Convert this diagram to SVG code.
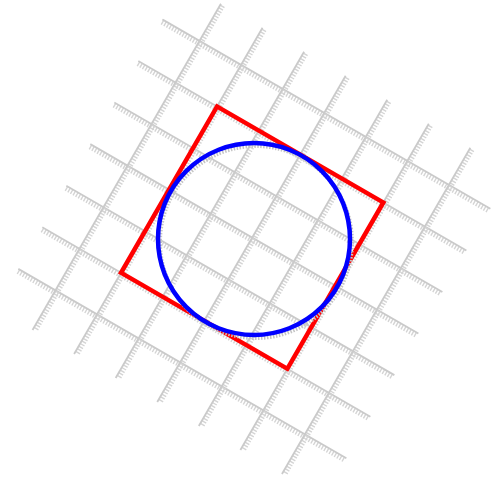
<svg xmlns="http://www.w3.org/2000/svg" width="502" height="479" viewBox="0 0 502 479">
<style>
.gl{stroke:#cacaca;stroke-width:1.8;fill:none;stroke-linecap:square}
.gt{stroke:#d4d4d4;stroke-width:5;fill:none;stroke-dasharray:1.4 1.6}
</style>
<rect width="502" height="479" fill="#ffffff"/>
<g id="grid" transform="translate(252.2 237.6) rotate(30)">
  <g id="rows">
    <line class="gt" x1="-186" y1="-141.5" x2="191" y2="-141.5"/><line class="gl" x1="-186" y1="-144" x2="191" y2="-144"/>
    <line class="gt" x1="-186" y1="-93.5" x2="191" y2="-93.5"/><line class="gl" x1="-186" y1="-96" x2="191" y2="-96"/>
    <line class="gt" x1="-186" y1="-45.5" x2="191" y2="-45.5"/><line class="gl" x1="-186" y1="-48" x2="191" y2="-48"/>
    <line class="gt" x1="-186" y1="2.5" x2="191" y2="2.5"/><line class="gl" x1="-186" y1="0" x2="191" y2="0"/>
    <line class="gt" x1="-186" y1="50.5" x2="191" y2="50.5"/><line class="gl" x1="-186" y1="48" x2="191" y2="48"/>
    <line class="gt" x1="-186" y1="98.5" x2="191" y2="98.5"/><line class="gl" x1="-186" y1="96" x2="191" y2="96"/>
    <line class="gt" x1="-186" y1="146.5" x2="191" y2="146.5"/><line class="gl" x1="-186" y1="144" x2="191" y2="144"/>
  </g>
  <g id="cols">
    <line class="gt" x1="-141.5" y1="-186" x2="-141.5" y2="189"/><line class="gl" x1="-144" y1="-186" x2="-144" y2="189"/>
    <line class="gt" x1="-93.5" y1="-186" x2="-93.5" y2="189"/><line class="gl" x1="-96" y1="-186" x2="-96" y2="189"/>
    <line class="gt" x1="-45.5" y1="-186" x2="-45.5" y2="189"/><line class="gl" x1="-48" y1="-186" x2="-48" y2="189"/>
    <line class="gt" x1="2.5" y1="-186" x2="2.5" y2="189"/><line class="gl" x1="0" y1="-186" x2="0" y2="189"/>
    <line class="gt" x1="50.5" y1="-186" x2="50.5" y2="189"/><line class="gl" x1="48" y1="-186" x2="48" y2="189"/>
    <line class="gt" x1="98.5" y1="-186" x2="98.5" y2="189"/><line class="gl" x1="96" y1="-186" x2="96" y2="189"/>
    <line class="gt" x1="146.5" y1="-186" x2="146.5" y2="189"/><line class="gl" x1="144" y1="-186" x2="144" y2="189"/>
  </g>
  <g id="square">
    <rect x="-96" y="-96" width="192" height="192" fill="none" stroke="#ff0000" stroke-width="4.5"/>
  </g>
</g>
<g id="circle">
  <circle cx="256" cy="242" r="96" fill="none" stroke="#c4c4c4" stroke-width="4" stroke-dasharray="1.5 1.5"/>
  <circle cx="254" cy="239" r="96" fill="none" stroke="#0000ff" stroke-width="4.5"/>
</g>
</svg>
